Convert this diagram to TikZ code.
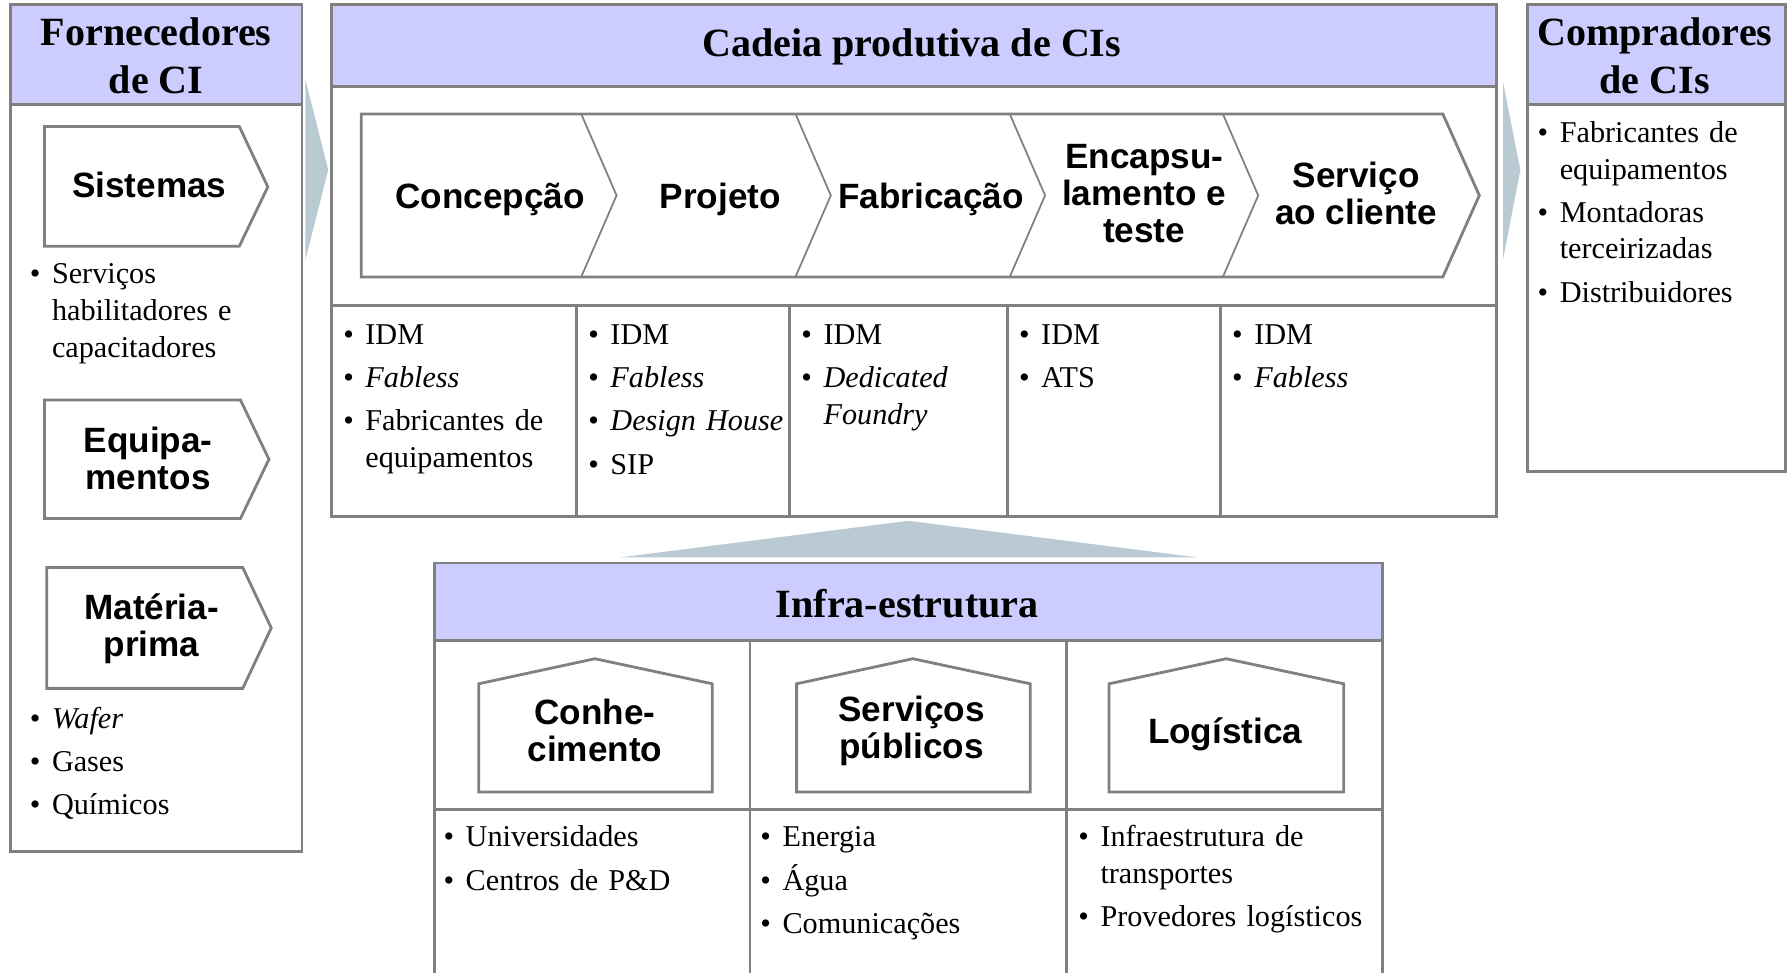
\documentclass[tikz,border=0pt]{standalone}
\usepackage{fontspec}
\setmainfont{Liberation Serif}
\setsansfont{Liberation Sans}
\definecolor{headblue}{RGB}{204,204,255}
\definecolor{rulegray}{RGB}{128,128,128}
\definecolor{arrowgray}{RGB}{186,202,211}
\newcommand{\bul}[1]{\par\parskip=1.9pt\lineskiplimit=-10pt\noindent\hangindent=6.3pt\hangafter=1\makebox[6.3pt][l]{\textbullet}\strut#1}
\tikzset{
  frame/.style={draw=rulegray, line width=0.8pt},
  sepline/.style={draw=rulegray, line width=0.5pt},
  head/.style={align=center, font=\fontsize{11.4}{13.6}\selectfont\bfseries},
  stage/.style={align=center, font=\sffamily\bfseries\fontsize{10}{10.5}\selectfont},
  items/.style={anchor=north west, inner sep=0pt, text width=3cm, align=left, font=\fontsize{8.6}{10.4}\selectfont},
  flow/.style={fill=arrowgray},
}
\begin{document}
\begin{tikzpicture}[x=0.011397cm, y=-0.011397cm]
  \useasboundingbox[fill=white] (0,0) rectangle (1568,853);

  % Fornecedores
  \fill[headblue] (9,4) rectangle (265,92);
  \draw[frame] (9,4) rectangle (265,747);
  \draw[frame] (9,92) -- (265,92);
  \node[head] (sup) at (137,49) {Fornecedores\\de CI};
  \draw[frame] (39,111) -- (210,111) -- (235,164) -- (210,216) -- (39,216) -- cycle;
  \draw[frame] (39,351) -- (211,351) -- (236,403) -- (211,455) -- (39,455) -- cycle;
  \draw[frame] (41,498) -- (213,498) -- (238,551) -- (213,604) -- (41,604) -- cycle;
  \node[stage] (sis) at (131,162) {Sistemas};
  \node[stage] (equ) at (130,402) {Equipa-\\mentos};
  \node[stage] (mat) at (133,552) {Matéria-\\prima};
  \node[items] (supa) at (25.6,210.6) {\bul{Serviços\newline habilitadores e\newline capacitadores}\par};
  \node[items] (supb) at (25.6,600.6) {\bul{\emph{Wafer}}\bul{Gases}\bul{Químicos}\par};

  % Cadeia produtiva
  \fill[headblue] (291,4) rectangle (1313,76);
  \draw[frame] (291,4) rectangle (1313,453);
  \draw[frame] (291,76) -- (1313,76);
  \draw[frame] (291,268) -- (1313,268);
  \foreach \x in {506,693,884,1071}
    \draw[frame] (\x,268) -- (\x,453);
  \node[head] (chain) at (800,41) {Cadeia produtiva de CIs};
  \draw[frame] (317,100) -- (1266,100) -- (1298,171.5) -- (1266,243) -- (317,243) -- cycle;
  \foreach \x in {510,698,886,1073}
    \draw[sepline] (\x,100) -- (\x+31,171.5) -- (\x,243);
  \node[stage] (con) at (430,175) {Concepção};
  \node[stage] (pro) at (632,175) {Projeto};
  \node[stage] (fab) at (817,175) {Fabricação};
  \node[stage] (enc) at (1004,170) {Encapsu-\\lamento e\\teste};
  \node[stage] (ser) at (1190,170) {Serviço\\ao cliente};
  \node[items] (cona) at (300.6,263.6) {\bul{IDM}\bul{\emph{Fabless}}\bul{Fabricantes de\newline equipamentos}\par};
  \node[items] (proa) at (515.6,263.6) {\bul{IDM}\bul{\emph{Fabless}}\bul{\emph{Design House}}\bul{SIP}\par};
  \node[items] (faba) at (702.6,263.6) {\bul{IDM}\bul{\emph{Dedicated\newline Foundry}}\par};
  \node[items] (enca) at (893.6,263.6) {\bul{IDM}\bul{ATS}\par};
  \node[items] (sera) at (1080.6,263.6) {\bul{IDM}\bul{\emph{Fabless}}\par};

  % Compradores
  \fill[headblue] (1340,4) rectangle (1567,92);
  \draw[frame] (1340,4) rectangle (1567,414);
  \draw[frame] (1340,92) -- (1567,92);
  \node[head] (buy) at (1452,49) {Compradores\\de CIs};
  \node[items] (buya) at (1348.6,86.6) {\bul{Fabricantes de\newline equipamentos}\bul{Montadoras\newline terceirizadas}\bul{Distribuidores}\par};

  % setas
  \fill[flow] (268,70) -- (288,149) -- (268,228) -- cycle;
  \fill[flow] (1319,73) -- (1334,149) -- (1319,227) -- cycle;
  \fill[flow] (545,489) -- (797,457) -- (1050,489) -- cycle;

  % Infra-estrutura
  \fill[headblue] (381,494) rectangle (1213,562);
  \draw[frame] (381,860) -- (381,494) -- (1213,494) -- (1213,860);
  \draw[frame] (381,562) -- (1213,562);
  \draw[frame] (381,710) -- (1213,710);
  \foreach \x in {658,936}
    \draw[frame] (\x,562) -- (\x,860);
  \node[head] (inf) at (796,530) {Infra-estrutura};
  \draw[frame] (420,695) -- (420,600) -- (522,578) -- (625,600) -- (625,695) -- cycle;
  \draw[frame] (699,695) -- (699,600) -- (801,578) -- (904,600) -- (904,695) -- cycle;
  \draw[frame] (973,695) -- (973,600) -- (1076,578) -- (1179,600) -- (1179,695) -- cycle;
  \node[stage] (kno) at (522,641) {Conhe-\\cimento};
  \node[stage] (pub) at (800,641) {Serviços\\públicos};
  \node[stage] (log) at (1075,644) {Logística};
  \node[items] (knoa) at (388.6,704.6) {\bul{Universidades}\bul{Centros de P\&D}\par};
  \node[items] (puba) at (666.6,704.6) {\bul{Energia}\bul{Água}\bul{Comunicações}\par};
  \node[items] (loga) at (945.6,704.6) {\bul{Infraestrutura de\newline transportes}\bul{Provedores logísticos}\par};
\end{tikzpicture}
\end{document}
